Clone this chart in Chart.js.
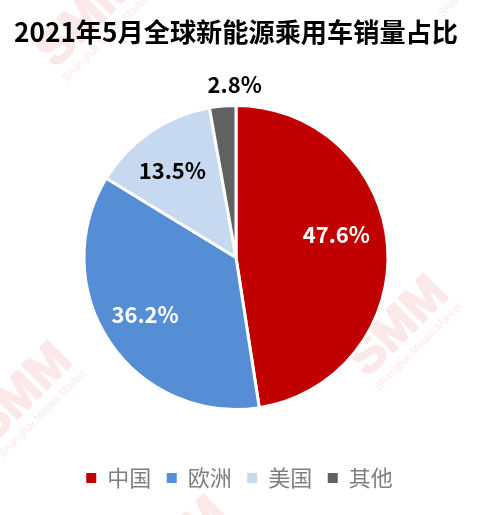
<!DOCTYPE html>
<html>
<head>
<meta charset="utf-8">
<script src="https://cdn.jsdelivr.net/npm/chart.js@4"></script>
<style>
  html, body { margin: 0; padding: 0; background: #fff; }
  #wrap { width: 490px; height: 515px; }
</style>
</head>
<body>
<div id="wrap"><canvas id="myChart"></canvas></div>
<script>
var titleText = '2021年5月全球新能源乘用车销量占比';
var regions = ['中国', '欧洲', '美国', '其他'];
var shares = [47.6, 36.2, 13.5, 2.8];
var sliceColours = ['#C00000', '#558ED5', '#C6D9F1', '#626262'];
var labelColours = ['#ffffff', '#ffffff', '#000000', '#000000'];
// the source places these by hand, so nudge them off the slice centre
var labelShifts = [[-5, -15], [-3, -2], [-4, 0], [8, -68]];
var markPlaces = [[23, 394], [399, 327], [87, 18], [463, -47], [179, 548]];

var fontName = '"Noto Sans CJK SC", "Noto Sans", sans-serif';

var watermarkPlugin = {
    id: 'watermark',
    // legend sits a little right of the pie in the source
    afterLayout: function (chart) {
        chart.legend.left += 3.5;
        chart.legend.right += 3.5;
    },
    beforeDraw: function (chart) {
        var ctx = chart.ctx;
        ctx.save();
        ctx.fillStyle = '#fbe8e9';
        ctx.strokeStyle = '#fbe8e9';
        ctx.lineWidth = 2;
        ctx.textAlign = 'center';
        ctx.textBaseline = 'middle';
        markPlaces.forEach(function (p) {
            ctx.save();
            ctx.translate(p[0], p[1]);
            ctx.rotate(-Math.PI / 4);
            ctx.font = 'bold 50px "Liberation Sans", sans-serif';
            ctx.fillText('SMM', 0, 0);
            ctx.strokeText('SMM', 0, 0);
            ctx.font = '11px "Liberation Sans", sans-serif';
            ctx.fillText('Shanghai Metals Market', 0, 28);
            ctx.restore();
        });
        ctx.restore();
    }
};

var sliceLabelPlugin = {
    id: 'sliceLabels',
    afterDatasetsDraw: function (chart) {
        var ctx = chart.ctx;
        var arcs = chart.getDatasetMeta(0).data;
        ctx.save();
        ctx.font = 'bold 22px ' + fontName;
        ctx.textAlign = 'center';
        ctx.textBaseline = 'middle';
        arcs.forEach(function (arc, i) {
            var mid = (arc.startAngle + arc.endAngle) / 2;
            var x = arc.x + Math.cos(mid) * 105.7 + labelShifts[i][0];
            var y = arc.y + Math.sin(mid) * 105.7 + labelShifts[i][1];
            ctx.fillStyle = labelColours[i];
            ctx.fillText(shares[i].toFixed(1) + '%', x, y);
        });
        ctx.restore();
    }
};

var myChart = new Chart(document.getElementById('myChart').getContext('2d'), {
    type: 'pie',
    data: {
        labels: regions,
        datasets: [{
            data: shares,
            backgroundColor: sliceColours,
            borderColor: '#ffffff',
            borderWidth: 3,
            radius: 152
        }]
    },
    options: {
        responsive: true,
        maintainAspectRatio: false,
        animation: false,
        layout: { padding: { left: 0, right: 18, top: 16, bottom: 16 } },
        plugins: {
            tooltip: { enabled: false },
            title: {
                display: true,
                text: titleText,
                color: '#000000',
                font: { family: fontName, size: 26.2, weight: 'bold' },
                padding: { top: 0, bottom: 16 }
            },
            legend: {
                position: 'bottom',
                labels: {
                    color: '#7f7f7f',
                    boxWidth: 10,
                    boxHeight: 10,
                    padding: 15.5,
                    font: { family: fontName, size: 22 },
                    // no white slice border on the legend boxes
                    generateLabels: function (chart) {
                        var items = Chart.overrides.pie.plugins.legend.labels.generateLabels(chart);
                        items.forEach(function (item) {
                            item.lineWidth = 0;
                        });
                        return items;
                    }
                }
            }
        }
    },
    plugins: [watermarkPlugin, sliceLabelPlugin]
});
</script>
</body>
</html>
